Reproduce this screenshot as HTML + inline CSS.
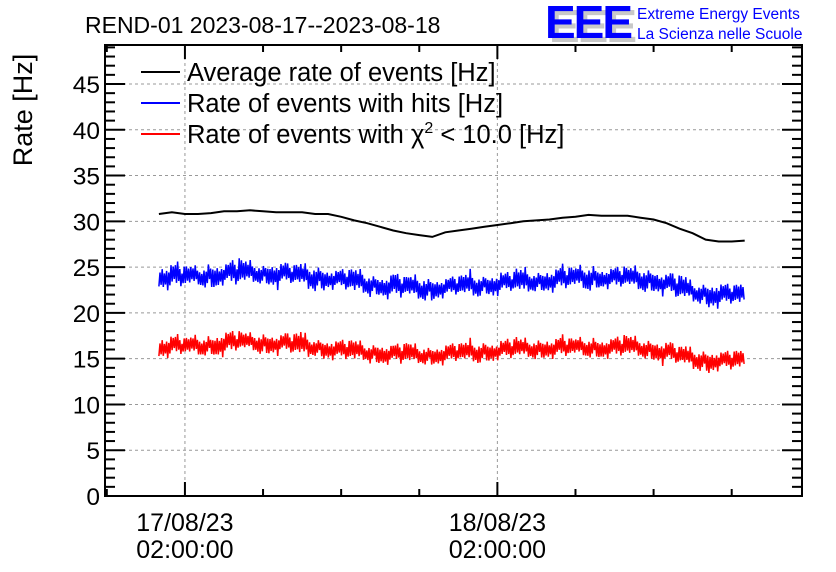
<!DOCTYPE html>
<html><head><meta charset="utf-8"><style>
body{margin:0;background:#fff;}
svg{display:block;font-family:"Liberation Sans",sans-serif;}
</style></head><body>
<svg id="c" width="836" height="572" viewBox="0 0 836 572"></svg>
<script>
const hours = [-2,-1,0,1,2,3,4,5,6,7,8,9,10,11,12,13,14,15,16,17,18,19,20,21,22,23,24,25,26,27,28,29,30,31,32,33,34,35,36,37,38,39,40,41,42,43];
const avgRate = [30.8,31.0,30.8,30.8,30.9,31.1,31.1,31.2,31.1,31.0,31.0,31.0,30.8,30.8,30.5,30.1,29.8,29.4,29.0,28.7,28.5,28.3,28.8,29.0,29.2,29.4,29.6,29.8,30.0,30.1,30.2,30.4,30.5,30.7,30.6,30.6,30.6,30.4,30.2,29.8,29.2,28.7,28.0,27.8,27.8,27.9];
const hitsMid = [24.0,24.0,23.9,24.0,24.1,24.3,24.3,24.4,24.3,24.3,24.2,24.0,23.9,23.8,23.6,23.4,23.2,23.0,22.9,22.8,22.7,22.7,22.8,22.9,23.0,23.1,23.2,23.3,23.4,23.5,23.6,23.7,23.8,23.9,23.9,23.8,23.8,23.7,23.6,23.2,22.7,22.3,22.1,22.0,21.9,22.0];
const hitsSpread = [1.3,1.7,1.4,1.2,1.6,1.3,1.8,1.4,1.2,1.6,1.3,1.4,1.7,1.2,1.3,1.6,1.4,1.2,1.7,1.3,1.6,1.4,1.2,1.3,1.6,1.2,1.4,1.3,1.7,1.2,1.4,1.6,1.3,1.7,1.2,1.4,1.3,1.6,1.4,1.3,1.7,1.2,1.4,1.6,1.3,1.4];
const chi2Mid = [16.3,16.4,16.3,16.4,16.5,16.7,16.8,16.8,16.7,16.7,16.6,16.4,16.3,16.1,15.9,15.8,15.7,15.6,15.5,15.5,15.4,15.4,15.5,15.6,15.7,15.8,15.9,16.0,16.1,16.1,16.2,16.2,16.2,16.3,16.2,16.2,16.3,16.2,16.0,15.7,15.3,15.0,14.8,14.8,14.7,14.9];
const chi2Spread = [1.2,1.4,1.1,1.3,1.2,1.6,1.3,1.1,1.4,1.2,1.3,1.6,1.1,1.2,1.3,1.4,1.1,1.3,1.2,1.4,1.2,1.1,1.3,1.2,1.4,1.3,1.1,1.4,1.2,1.3,1.2,1.4,1.1,1.3,1.2,1.3,1.4,1.2,1.3,1.4,1.2,1.3,1.4,1.2,1.3,1.2];
const yTicks = [0,5,10,15,20,25,30,35,40,45];
const xTickHours = [0,24];
const xTickLabels = [["17/08/23","02:00:00"],["18/08/23","02:00:00"]];

const L=105,R=802,T=45,B=496;
const H0=-6.14,H1=47.4,YMAX=49.26;
const xs=h=>L+(h-H0)/(H1-H0)*(R-L);
const ys=v=>B-v/YMAX*(B-T);
const svg=document.getElementById('c');
const NS='http://www.w3.org/2000/svg';
function mk(tag,attrs,parent){const e=document.createElementNS(NS,tag);for(const k in attrs)e.setAttribute(k,attrs[k]);(parent||svg).appendChild(e);return e;}

for(const v of yTicks){ if(v===0) continue;
  const g=mk('line',{x1:L,x2:R,y1:ys(v),y2:ys(v),stroke:'#999','stroke-dasharray':'3,3','stroke-width':1});
  
  
}
for(const h of xTickHours){
  const g=mk('line',{x1:xs(h),x2:xs(h),y1:T,y2:B,stroke:'#999','stroke-dasharray':'3,3','stroke-width':1});
  
  
}
const pat=[1,0.35,0.8,0.55,0.95,0.25,0.7,0.45,1.15,0.3,0.6,0.85,0.4,0.75,0.2,0.9,0.5,1.05,0.35,0.65,0.8,0.3,0.55,0.95,0.45];
function band(mid,spr,color,name){
  let d='';const x0=xs(hours[0]),x1=xs(hours[hours.length-1]);let k=0;
  for(let x=x0;x<=x1;x+=1.1,k++){
    const h=H0+(x-L)/(R-L)*(H1-H0);
    let i=Math.min(Math.max(Math.floor(h-hours[0]),0),hours.length-2);
    const t=Math.min(Math.max(h-hours[i],0),1);
    const m=mid[i]+(mid[i+1]-mid[i])*t, s=spr[i]+(spr[i+1]-spr[i])*t;
    const f=pat[k%pat.length]*(k%2?1:-1)*(k%7===3?1.0:0.85);
    d+=(k?'L':'M')+x.toFixed(1)+','+ys(m+s*f).toFixed(1);
  }
  const p=mk('path',{d:d,fill:'none',stroke:color,'stroke-width':1.5});
  
  
}
band(hitsMid,hitsSpread,'#0000ff','hits-rate-series');
band(chi2Mid,chi2Spread,'#ff0000','chi2-rate-series');
{
  const d=hours.map((h,i)=>(i?'L':'M')+xs(h).toFixed(1)+','+ys(avgRate[i]).toFixed(1)).join('');
  const p=mk('path',{d:d,fill:'none',stroke:'#000','stroke-width':2});
  
  
}
const fr=mk('rect',{x:L,y:T,width:R-L,height:B-T,fill:'none',stroke:'#000','stroke-width':2});


for(let v=0;v<=49;v++){
  const len=v%5===0?20:10;
  mk('line',{x1:L,x2:L+len,y1:ys(v),y2:ys(v),stroke:'#000','stroke-width':2});
  mk('line',{x1:R,x2:R-len,y1:ys(v),y2:ys(v),stroke:'#000','stroke-width':2});
}
for(const v of yTicks){
  const t=mk('text',{x:L-5,y:ys(v)+9,'text-anchor':'end','font-size':24.5});
  t.textContent=v;
  
  
}
for(let h=-6;h<=47;h+=6){
  const len=(h%24===0)?14:7;
  mk('line',{x1:xs(h),x2:xs(h),y1:B,y2:B-len,stroke:'#000','stroke-width':2});
  mk('line',{x1:xs(h),x2:xs(h),y1:T,y2:T+len,stroke:'#000','stroke-width':2});
}
xTickHours.forEach((h,i)=>{
  for(let j=0;j<2;j++){
    const t=mk('text',{x:xs(h),y:531+j*27,'text-anchor':'middle','font-size':25});
    t.textContent=xTickLabels[i][j];
    
    
  }
});
</script>
<div style="position:absolute;left:0;top:0;width:836px;height:572px;pointer-events:none;">
<svg width="836" height="572" style="position:absolute;left:0;top:0;font-family:'Liberation Sans',sans-serif;">
  <text x="85" y="33" font-size="23">REND-01 2023-08-17--2023-08-18</text>
  <text transform="translate(32,110) rotate(-90)" text-anchor="middle" font-size="27">Rate [Hz]</text>
  <g>
    <line x1="141" x2="180" y1="72" y2="72" stroke="#000" stroke-width="2"/>
    <text x="187" y="81" font-size="25.5">Average rate of events [Hz]</text>
    <line x1="141" x2="180" y1="103" y2="103" stroke="#00f" stroke-width="2"/>
    <text x="187" y="112" font-size="25.5">Rate of events with hits [Hz]</text>
    <line x1="141" x2="180" y1="134" y2="134" stroke="#f00" stroke-width="2"/>
    <text x="187" y="143" font-size="25.5">Rate of events with χ<tspan font-size="16" dy="-10">2</tspan><tspan dy="10"> &lt; 10.0 [Hz]</tspan></text>
  </g>
  <g>
    <text x="549" y="42" font-size="46" fill="#c8c8c8" font-weight="bold" letter-spacing="-2">EEE</text>
    <text x="545" y="38" font-size="46" fill="#0000ff" font-weight="bold" letter-spacing="-2">EEE</text>
    <text x="637" y="19" font-size="15.5" fill="#0000ff">Extreme Energy Events</text>
    <text x="637" y="39" font-size="15.5" fill="#0000ff">La Scienza nelle Scuole</text>
  </g>
</svg>
</div>
</body></html>
